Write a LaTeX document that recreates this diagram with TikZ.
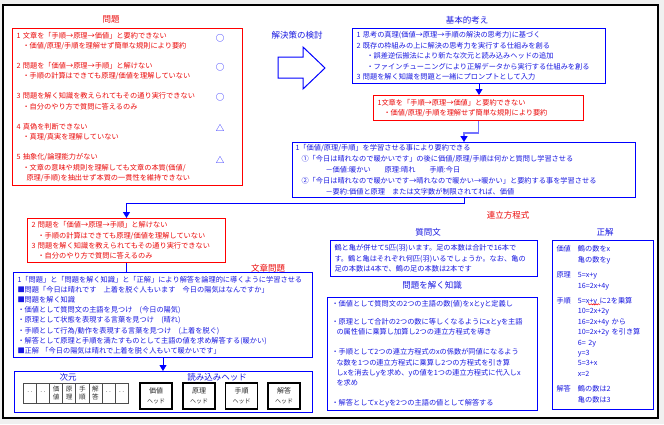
\documentclass[tikz,border=0pt]{standalone}
\usepackage{fontspec}
\setmainfont{Noto Sans CJK JP}
\usetikzlibrary{arrows.meta,decorations.pathmorphing}

\definecolor{lineblue}{RGB}{0,0,255}
\definecolor{textblue}{RGB}{25,25,225}
\definecolor{textred}{RGB}{235,10,10}
\definecolor{paneback}{RGB}{240,240,240}

\newcommand{\jsmall}{\fontsize{7.2}{10.4}\selectfont}
\newcommand{\jtitle}{\fontsize{8.5}{10}\selectfont}

\begin{document}
\begin{tikzpicture}[x=1pt,y=-1pt,
  redbox/.style={draw=red,line width=1pt,fill=white,anchor=north west,inner xsep=4pt,
                 inner ysep=0pt,align=left,text=textred,font=\jsmall},
  bluebox/.style={draw=lineblue,line width=1pt,fill=white,anchor=north west,inner xsep=4pt,
                  inner ysep=0pt,align=left,text=textblue,font=\jsmall},
  ttl/.style={font=\jtitle,text=textblue},
  ttlred/.style={font=\jtitle,text=textred},
  symb/.style={font=\fontsize{8.5}{9}\selectfont,text=lineblue},
  conn/.style={lineblue,line width=0.9pt},
  arr/.style={conn,-{Triangle[width=7pt,length=6pt,color=lineblue]}},
  cell/.style={draw=black!70,line width=0.6pt,minimum width=13.1pt,minimum height=20pt,
               inner sep=0pt,align=center,text=black!80,font=\fontsize{6.6}{8.6}\selectfont},
  headbox/.style={draw=black,line width=1.2pt,minimum width=32pt,minimum height=26pt,
                  inner sep=0pt,align=center,text=black!85,font=\fontsize{7}{10}\selectfont}]

  % frame
  \fill[paneback] (0,0) rectangle (664,424);
  \draw[black,line width=1.4pt,fill=white] (3,5) rectangle (658,418);

  % problems of the model
  \node[ttlred] (tprob) at (111,19) {問題};
  \node[redbox,minimum width=230pt,minimum height=157pt,text width=222pt] (prob) at (12,28) {%
    1~文章を「手順→原理→価値」と要約できない\\
    \hspace*{6pt}・価値/原理/手順を理解せず簡単な規則により要約\\[9.6pt]
    2~問題を「価値→原理→手順」と解けない\\
    \hspace*{6pt}・手順の計算はできても原理/価値を理解していない\\[9.6pt]
    3~問題を解く知識を教えられてもその通り実行できない\\
    \hspace*{6pt}・自分のやり方で質問に答えるのみ\\[9.6pt]
    4~真偽を判断できない\\
    \hspace*{6pt}・真理/真実を理解していない\\[9.6pt]
    5~抽象化/論理能力がない\\
    \hspace*{6pt}・文章の意味や規則を理解しても文章の本質(価値/\\
    \hspace*{10pt}原理/手順)を抽出せず本質の一貫性を維持できない};
  \foreach \s/\sy [count=\i] in {○/38,○/67,○/97,△/128,△/160}
    \node[symb] (sym\i) at (220,\sy) {\s};

  % big arrow
  \node[ttl] (tsolve) at (297,35) {解決策の検討};
  \draw[lineblue,line width=1pt,fill=white]
    (278,57) -- (303,57) -- (303,47) -- (325,68) -- (303,89) -- (303,78) -- (278,78) -- cycle;

  % basic idea
  \node[ttl] (tbasic) at (467,20) {基本的考え};
  \node[bluebox,minimum width=253pt,minimum height=55pt,text width=245pt] (basic) at (352,28) {%
    1~思考の真理(価値→原理→手順の解決の思考力)に基づく\\
    2~既存の枠組みの上に解決の思考力を実行する仕組みを創る\\
    \hspace*{10pt}・誤差逆伝搬法により新たな次元と読み込みヘッドの追加\\
    \hspace*{10pt}・ファインチューニングにより正解データから実行する仕組みを創る\\
    3~問題を解く知識を問題と一緒にプロンプトとして入力};

  \node[redbox,minimum width=210pt,minimum height=25pt,text width=202pt] (sum) at (373,95) {%
    1文章を「手順→原理→価値」と要約できない\\
    \hspace*{6pt}・価値/原理/手順を理解せず簡単な規則により要約};

  \node[bluebox,minimum width=343pt,minimum height=55pt,text width=337pt,inner xsep=3pt,
        font=\fontsize{7.2}{11}\selectfont] (learn) at (292,142) {%
    1「価値/原理/手順」を学習させる事により要約できる\\
    \hspace*{6pt}①「今日は晴れなので暖かいです」の後に価値/原理/手順は何かと質問し学習させる\\
    \hspace*{30pt}－価値:暖かい\hspace*{14pt}原理:晴れ\hspace*{14pt}手順:今日\\
    \hspace*{6pt}②「今日は晴れなので暖かいです→晴れなので暖かい→暖かい」と要約する事を学習させる\\
    \hspace*{30pt}－要約:価値と原理\hspace*{7pt}または文字数が制限されてれば、価値};

  \draw[arr] (basic.south) -- (basic.south |- sum.north);
  \draw[lineblue!55,line width=1.8pt,-{Triangle[width=7pt,length=6pt,color=lineblue]}]
    (sum.south) -- ++(0,12) -| (learn.north);

  % sentence problems
  \node[redbox,minimum width=198pt,minimum height=44pt,text width=190pt] (solve) at (27,218) {%
    2~問題を「価値→原理→手順」と解けない\\
    \hspace*{6pt}・手順の計算はできても原理/価値を理解していない\\
    3~問題を解く知識を教えられてもその通り実行できない\\
    \hspace*{6pt}・自分のやり方で質問に答えるのみ};
  \draw[arr] (learn.south) -- ++(0,5) -| (solve.north);

  \node[ttlred] (tsent) at (268,268) {文章問題};
  \node[bluebox,minimum width=299pt,minimum height=85pt,text width=291pt,
        font=\fontsize{7.2}{10.2}\selectfont] (train) at (13,272) {%
    1「問題」と「問題を解く知識」と「正解」により解答を論理的に導くように学習させる\\
    ■問題「今日は晴れです　上着を脱ぐ人もいます　今日の陽気はなんですか」\\
    ■問題を解く知識\\
    ・価値として質問文の主語を見つけ　(今日の陽気)\\
    ・原理として状態を表現する言葉を見つけ　(晴れ)\\
    ・手順として行為/動作を表現する言葉を見つけ　(上着を脱ぐ)\\
    ・解答として原理と手順を満たすものとして主語の値を求め解答する(暖かい)\\
    ■正解~「今日の陽気は晴れで上着を脱ぐ人もいて暖かいです」};
  \draw[conn] (solve.south) -- (solve.south |- train.north);

  % dimensions and heads
  \node[bluebox,minimum width=298pt,minimum height=41pt] (dims) at (14,371) {};
  \draw[arr] (train.south) -- (train.south |- dims.north);
  \node[ttl] (tdim) at (68,377) {次元};
  \node[ttl] (thead) at (217,377) {読み込みヘッド};
  \foreach \i in {1,2,7,8}
    \node[cell] (cell\i) at (16.8+13.1*\i,393) {‥};
  \foreach \i/\ta/\tb in {3/価/値,4/原/理,5/手/順,6/解/答}
    \node[cell] (cell\i) at (16.8+13.1*\i,393) {\ta\\\tb};
  \foreach \nm/\lbl/\hx in {hval/価値/156,hprin/原理/199,hproc/手順/241.5,hans/解答/284}
    \node[headbox] (\nm) at (\hx,396) {\lbl\\{\fontsize{6}{7}\selectfont ヘッド}};

  % simultaneous equations
  \node[ttlred] (tsim) at (508,215) {連立方程式};
  \node[ttl] (tquest) at (428,232) {質問文};
  \node[bluebox,minimum width=207pt,minimum height=36pt,text width=199pt,
        font=\fontsize{7.2}{10.6}\selectfont] (quest) at (330,240) {%
    鶴と亀が併せて5匹(羽)います。足の本数は合計で16本で\\
    す。鶴と亀はそれぞれ何匹(羽)いるでしょうか。なお、亀の\\
    足の本数は4本で、鶴の足の本数は2本です};

  \node[ttl] (tknow) at (432,285) {問題を解く知識};
  \node[bluebox,minimum width=210pt,minimum height=113pt,text width=202pt] (know) at (327,297) {%
    ・価値として質問文の2つの主語の数(値)をxとyと定義し\\[7.6pt]
    ・原理として合計の2つの数に等しくなるようにxとyを主語\\
    \hspace*{5pt}の属性値に乗算し加算し2つの連立方程式を導き\\[9.6pt]
    ・手順として2つの連立方程式のxの係数が同値になるよう\\
    \hspace*{5pt}な数を1つの連立方程式に乗算し2つの方程式を引き算\\
    \hspace*{5pt}しxを消去しyを求め、yの値を1つの連立方程式に代入しx\\
    \hspace*{5pt}を求め\\[9.6pt]
    ・解答としてxとyを2つの主語の値として解答する};

  \node[ttl] (tans) at (605,232) {正解};
  \node[bluebox,minimum width=101pt,minimum height=169pt,text width=93pt] (ans) at (552,240) {%
    \begin{tabular}{@{}l@{\hspace{7pt}}l@{}}
    価値 & 鶴の数をx\\
         & 亀の数をy\\[5pt]
    原理 & 5=x+y\\
         & 16=2x+4y\\[5pt]
    手順 & 5=x+y に2を乗算\\
         & 10=2x+2y\\
         & 16=2x+4y から\\
         & 10=2x+2y を引き算\\
         & 6= 2y\\
         & y=3\\
         & 5=3+x\\
         & x=2\\[5pt]
    解答 & 鶴の数は2\\
         & 亀の数は3
    \end{tabular}};
  % spell-check underline
  \draw[red,line width=0.5pt,decorate,decoration={snake,amplitude=0.6pt,segment length=2.4pt}]
    (588,304.3) -- (600,304.3);
\end{tikzpicture}
\end{document}
